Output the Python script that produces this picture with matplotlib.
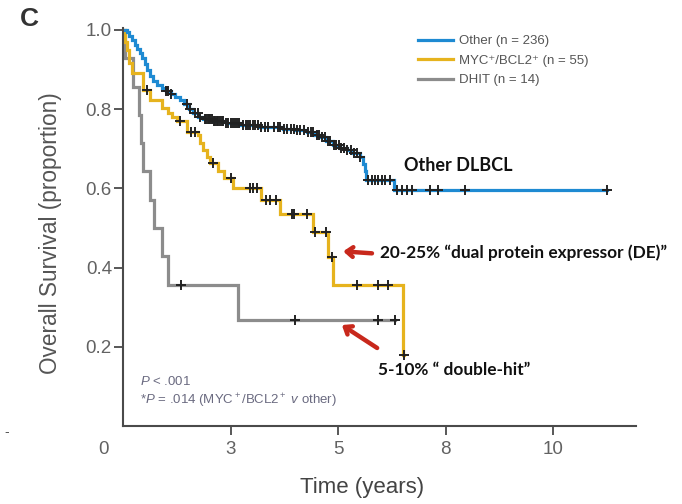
import numpy as np
import matplotlib
matplotlib.use('Agg')
import matplotlib.pyplot as plt
from matplotlib.transforms import ScaledTranslation

# =============================================
# Data: Kaplan-Meier steps (event time, survival after event) and censor times
# =============================================
other_t = [0.1, 0.15, 0.2, 0.27, 0.33, 0.4, 0.45, 0.5, 0.56, 0.63, 0.7, 0.8, 0.9, 1.0,
           1.12, 1.22, 1.33, 1.43, 1.53, 1.63, 1.75, 1.86, 2.1, 2.4, 2.72, 3.19, 3.72,
           4.0, 4.28, 4.45, 4.58, 4.72, 4.88, 5.05, 5.2, 5.35, 5.5, 5.58, 5.62, 5.66, 6.3]
other_s = [0.995, 0.985, 0.975, 0.962, 0.952, 0.942, 0.928, 0.913, 0.899, 0.884, 0.870,
           0.862, 0.854, 0.846, 0.838, 0.830, 0.823, 0.812, 0.801, 0.790, 0.781, 0.775,
           0.770, 0.765, 0.760, 0.755, 0.751, 0.747, 0.742, 0.736, 0.729, 0.720, 0.710,
           0.703, 0.697, 0.689, 0.680, 0.662, 0.644, 0.622, 0.596]
other_cens = [1.0, 1.05, 1.12, 1.48, 1.55, 1.68, 1.74, 1.8, 1.9, 1.94, 1.97, 2.0, 2.03,
              2.08, 2.12, 2.15, 2.18, 2.22, 2.25, 2.3, 2.33, 2.4, 2.45, 2.5, 2.55, 2.6,
              2.65, 2.7, 2.78, 2.85, 2.9, 2.96, 3.02, 3.08, 3.15, 3.22, 3.3, 3.38, 3.5,
              3.6, 3.66, 3.75, 3.82, 3.9, 3.97, 4.05, 4.12, 4.2, 4.3, 4.38, 4.42, 4.5,
              4.56, 4.62, 4.7, 4.76, 4.82, 4.9, 4.96, 5.02, 5.08, 5.15, 5.22, 5.3, 5.38,
              5.45, 5.52, 5.7, 5.78, 5.86, 5.94, 6.02, 6.1, 6.2, 6.37, 6.49, 6.6, 6.72,
              7.14, 7.33, 7.95, 11.26]

de_t = [0.05, 0.1, 0.15, 0.2, 0.47, 0.63, 0.9, 1.05, 1.13, 1.25, 1.48, 1.75, 1.79, 1.87,
        1.95, 2.02, 2.2, 2.35, 2.56, 3.22, 3.65, 4.42, 4.77, 4.88, 6.51]
de_s = [0.97, 0.95, 0.917, 0.891, 0.848, 0.823, 0.803, 0.79, 0.78, 0.77, 0.742, 0.735,
        0.715, 0.697, 0.68, 0.664, 0.645, 0.626, 0.601, 0.571, 0.535, 0.49, 0.427, 0.356,
        0.18]
de_cens = [0.56, 1.33, 1.58, 1.68, 2.1, 2.5, 2.95, 3.03, 3.12, 3.32, 3.43, 3.55, 3.93,
           3.97, 4.28, 4.47, 4.72, 4.86, 5.44, 5.93, 6.16, 6.53]

dhit_t = [0.05, 0.23, 0.38, 0.43, 0.47, 0.63, 0.72, 0.9, 1.05, 2.67]
dhit_s = [0.929, 0.857, 0.786, 0.714, 0.643, 0.571, 0.5, 0.429, 0.357, 0.268]
dhit_cens = [1.35, 4.0, 5.93, 6.33]

labels = ['Other (n = 236)', 'MYC\u207a/BCL2\u207a (n = 55)', 'DHIT (n = 14)']
colors = ['#1e8ad2', '#e6b31e', '#8c8c8c']

xticks = [0, 2.5, 5, 7.5, 10]
xticklabels = ['0', '3', '5', '8', '10']
yticks = [0.2, 0.4, 0.6, 0.8, 1.0]

# =============================================
# Fonts
# =============================================
plt.rcParams['font.family'] = ['Liberation Sans', 'DejaVu Sans']
plt.rcParams['mathtext.fontset'] = 'custom'
plt.rcParams['mathtext.rm'] = 'Liberation Sans'
plt.rcParams['mathtext.it'] = 'Liberation Sans:italic'
bold_fam = ['Lato', 'DejaVu Sans']
grey_txt = '#555555'

# =============================================
# Plot
# =============================================
fig = plt.figure(figsize=(6.82, 5.04), dpi=100)
ax = fig.add_axes([123 / 682, 1 - 426 / 504, 513 / 682, 398 / 504])


def km_curve(t, s, cens):
    times = np.r_[0.0, t, max(cens)]
    surv = np.r_[1.0, s, s[-1]]
    idx = np.searchsorted(times, cens, side='right') - 1
    return times, surv, surv[np.clip(idx, 0, len(surv) - 1)]


groups = [(other_t, other_s, other_cens), (de_t, de_s, de_cens), (dhit_t, dhit_s, dhit_cens)]
for (t, s, c), lab, col in list(zip(groups, labels, colors))[::-1]:
    times, surv, cy = km_curve(t, s, c)
    ax.step(times, surv, where='post', color=col, lw=2.3, label=lab, solid_joinstyle='miter')
    ax.plot(c, cy, ls='none', marker='+', ms=7, mew=1.4, color='#222222')

ax.set_xlim(0, 11.93)
ax.set_ylim(0, 1.005)
for side in ['top', 'right']:
    ax.spines[side].set_visible(False)
for side in ['left', 'bottom']:
    ax.spines[side].set_color('#4a4a4a')
    ax.spines[side].set_linewidth(1.5)

ax.set_yticks(yticks)
ax.set_yticklabels(['%.1f' % v for v in yticks])
ax.set_xticks(xticks)
ax.set_xticklabels(xticklabels)
ax.tick_params(axis='both', length=6.5, width=1.3, color='#4a4a4a', labelcolor='#626262',
               labelsize=13.5)
ax.tick_params(axis='y', pad=1.5)
ax.tick_params(axis='x', pad=4)

# no tick mark at the origin, its label sits left of the y axis
t0 = ax.xaxis.get_major_ticks()[0]
t0.tick1line.set_visible(False)
t0.label1.set_transform(t0.label1.get_transform() + ScaledTranslation(-14 / 72, 0, fig.dpi_scale_trans))

fig.text(51 / 682, 1 - 233 / 504, 'Overall Survival (proportion)', rotation=90,
         ha='center', va='center', fontsize=16.3, color=grey_txt)
fig.text(362 / 682, 1 - 487 / 504, 'Time (years)', ha='center', va='center',
         fontsize=16, color='#444444')
fig.text(29 / 682, 1 - 19 / 504, 'C', ha='center', va='center', fontsize=19,
         fontweight='bold', color='#333333')

handles, labs = ax.get_legend_handles_labels()
leg = ax.legend(handles[::-1], labs[::-1], loc='upper left', frameon=False,
                bbox_to_anchor=(418 / 682, 1 - 35 / 504), bbox_transform=fig.transFigure,
                borderpad=0, borderaxespad=0, handlelength=2.65, handletextpad=0.45,
                labelspacing=0.55, fontsize=9.5)
for txt in leg.get_texts():
    txt.set_color(grey_txt)

ax.text(0.4, 0.112, '$P$ < .001', fontsize=9.5, color='#6a6a80', va='center')
ax.text(0.4, 0.062, '*$P$ = .014 (MYC$^+$/BCL2$^+$ $v$ other)', fontsize=9.5,
        color='#6a6a80', va='center')

# call-outs
ax.text(6.53, 0.659, 'Other DLBCL', fontsize=13, fontweight='bold', family=bold_fam,
        va='center', color='#111111')
ax.text(5.98, 0.437, '20-25% \u201cdual protein expressor (DE)\u201d', fontsize=12.4,
        fontweight='bold', family=bold_fam, va='center', color='#111111')
ax.text(5.93, 0.141, '5-10% \u201c double-hit\u201d', fontsize=12.4, fontweight='bold',
        family=bold_fam, va='center', color='#111111')
arrow = dict(arrowstyle='->, head_length=0.45, head_width=0.35', color='#c8281c', lw=3.2,
             shrinkA=0, shrinkB=0)
ax.annotate('', xy=(5.12, 0.441), xytext=(5.79, 0.436), arrowprops=arrow)
ax.annotate('', xy=(5.09, 0.255), xytext=(5.91, 0.197), arrowprops=arrow)

fig.text(4 / 682, 1 - 432 / 504, '-', fontsize=10, color='#555555', va='center')

fig.savefig('out.png', dpi=100)
